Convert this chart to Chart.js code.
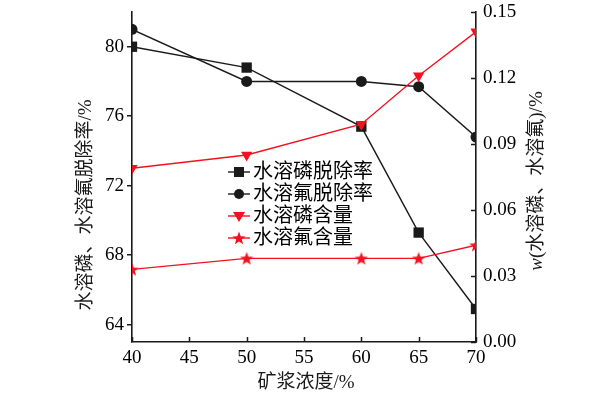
<!DOCTYPE html>
<html>
<head>
<meta charset="utf-8">
<script src="https://cdn.jsdelivr.net/npm/chart.js@4.4.1/dist/chart.umd.min.js"></script>
<style>
  html, body { margin: 0; padding: 0; background: #fff; }
  #wrap { width: 599px; height: 398px; position: relative; }
</style>
</head>
<body>
<div id="wrap"><canvas id="mainChart" width="599" height="398"></canvas></div>
<script>
const X_VALUES = [40, 50, 60, 65, 70];
const P_REMOVAL = [80.0, 78.8, 75.4, 69.3, 64.9];
const F_REMOVAL = [81.0, 78.0, 78.0, 77.7, 74.8];
const P_CONTENT = [0.079, 0.085, 0.099, 0.121, 0.141];
const F_CONTENT = [0.033, 0.038, 0.038, 0.038, 0.044];

const X_TICKS = [40, 45, 50, 55, 60, 65, 70];
const LEFT_TICKS = [64, 68, 72, 76, 80];
const RIGHT_TICKS = [0, 0.03, 0.06, 0.09, 0.12, 0.15];

const SERIES_NAMES = ["水溶磷脱除率", "水溶氟脱除率", "水溶磷含量", "水溶氟含量"];
const X_TITLE = "矿浆浓度/%";
const LEFT_TITLE = "水溶磷、水溶氟脱除率/%";
const RIGHT_TITLE_VAR = "w";
const RIGHT_TITLE_REST = "(水溶磷、水溶氟)/%";

const FONT = '"Liberation Serif", "Noto Sans CJK SC", serif';
const INK = "#1a1a1a";
const RED = "#f5101f";

function makeStar(size, color) {
  const c = document.createElement("canvas");
  c.width = size;
  c.height = size;
  const g = c.getContext("2d");
  const cx = size / 2, cy = size / 2 + 0.6;
  const ro = size / 2, ri = ro * 0.42;
  g.beginPath();
  for (let i = 0; i < 10; i++) {
    const r = i % 2 === 0 ? ro : ri;
    const a = -Math.PI / 2 + (i * Math.PI) / 5;
    const px = cx + r * Math.cos(a), py = cy + r * Math.sin(a);
    if (i === 0) g.moveTo(px, py); else g.lineTo(px, py);
  }
  g.closePath();
  g.fillStyle = color;
  g.fill();
  return c;
}

const starImg = makeStar(14, RED);

const toPoints = (ys) => X_VALUES.map((x, i) => ({ x, y: ys[i] }));

// pin the plot box: top edge at 12px, no extra label padding
function pinVertical(width) {
  return (s) => {
    s.width = width;
    s.paddingTop = 12;
    s.paddingBottom = 0;
  };
}

const extras = {
  id: "extras",
  afterDraw(chart) {
    const { ctx, chartArea: a } = chart;
    const xs = chart.scales.x;
    const yr = chart.scales.y1;
    ctx.save();
    ctx.strokeStyle = INK;
    ctx.lineWidth = 1.5;
    // inner ticks on bottom and right axes
    X_TICKS.forEach((v) => {
      const px = Math.round(xs.getPixelForValue(v)) + 0.5;
      ctx.beginPath();
      ctx.moveTo(px, a.bottom);
      ctx.lineTo(px, a.bottom - 5);
      ctx.stroke();
    });
    RIGHT_TICKS.forEach((v) => {
      const py = Math.round(yr.getPixelForValue(v)) + 0.5;
      ctx.beginPath();
      ctx.moveTo(a.right, py);
      ctx.lineTo(a.right - 5, py);
      ctx.stroke();
    });

    // axis titles
    ctx.fillStyle = INK;
    ctx.textBaseline = "middle";
    ctx.textAlign = "center";
    ctx.font = "19px " + FONT;
    ctx.fillText(X_TITLE, (a.left + a.right) / 2 + 2, 383);

    ctx.save();
    ctx.translate(86, 205);
    ctx.rotate(-Math.PI / 2);
    ctx.fillText(LEFT_TITLE, 0, 0);
    ctx.restore();

    ctx.save();
    ctx.translate(537, 181);
    ctx.rotate(-Math.PI / 2);
    ctx.textAlign = "left";
    ctx.font = "italic 19px " + FONT;
    const wv = ctx.measureText(RIGHT_TITLE_VAR).width;
    ctx.font = "19px " + FONT;
    const wr = ctx.measureText(RIGHT_TITLE_REST).width;
    const start = -(wv + wr) / 2;
    ctx.font = "italic 19px " + FONT;
    ctx.fillText(RIGHT_TITLE_VAR, start, 0);
    ctx.font = "19px " + FONT;
    ctx.fillText(RIGHT_TITLE_REST, start + wv, 0);
    ctx.restore();

    // legend
    const rows = [172, 194, 216, 238];
    chart.data.datasets.forEach((ds, i) => {
      const y = rows[i];
      ctx.strokeStyle = ds.borderColor;
      ctx.lineWidth = 1.4;
      ctx.beginPath();
      ctx.moveTo(228, y);
      ctx.lineTo(250, y);
      ctx.stroke();
      ctx.fillStyle = ds.pointBackgroundColor;
      const mx = 239;
      if (ds.pointStyle === "rect") {
        ctx.fillRect(mx - 5, y - 5, 10, 10);
      } else if (ds.pointStyle === "circle") {
        ctx.beginPath();
        ctx.arc(mx, y, 5, 0, Math.PI * 2);
        ctx.fill();
      } else if (ds.pointStyle === "triangle") {
        ctx.beginPath();
        ctx.moveTo(mx - 6, y - 4);
        ctx.lineTo(mx + 6, y - 4);
        ctx.lineTo(mx, y + 6);
        ctx.closePath();
        ctx.fill();
      } else {
        ctx.drawImage(starImg, mx - 7, y - 7);
      }
      ctx.fillStyle = "#000";
      ctx.textAlign = "left";
      ctx.font = "20px " + FONT;
      ctx.fillText(ds.label, 253, y + 1);
    });
    ctx.restore();
  },
};

function init() {
  Chart.defaults.font.family = FONT;
  Chart.defaults.color = "#000";

  const ctx = document.getElementById("mainChart").getContext("2d");
  new Chart(ctx, {
    type: "line",
    data: {
      datasets: [
        {
          label: SERIES_NAMES[0],
          data: toPoints(P_REMOVAL),
          yAxisID: "y",
          borderColor: INK,
          borderWidth: 1.4,
          pointStyle: "rect",
          pointRadius: 7.3,
          pointBackgroundColor: INK,
          pointBorderColor: INK,
          pointBorderWidth: 0,
          order: 2,
        },
        {
          label: SERIES_NAMES[1],
          data: toPoints(F_REMOVAL),
          yAxisID: "y",
          borderColor: INK,
          borderWidth: 1.4,
          pointStyle: "circle",
          pointRadius: 5.5,
          pointBackgroundColor: INK,
          pointBorderColor: INK,
          pointBorderWidth: 0,
          order: 2,
        },
        {
          label: SERIES_NAMES[2],
          data: toPoints(P_CONTENT),
          yAxisID: "y1",
          borderColor: RED,
          borderWidth: 1.4,
          pointStyle: "triangle",
          rotation: 180,
          pointRadius: 6.5,
          pointBackgroundColor: RED,
          pointBorderColor: RED,
          pointBorderWidth: 0,
          order: 1,
        },
        {
          label: SERIES_NAMES[3],
          data: toPoints(F_CONTENT),
          yAxisID: "y1",
          borderColor: RED,
          borderWidth: 1.4,
          pointStyle: starImg,
          pointRadius: 7,
          pointBackgroundColor: RED,
          pointBorderColor: RED,
          order: 1,
        },
      ],
    },
    options: {
      responsive: false,
      animation: false,
      devicePixelRatio: 1,
      layout: { padding: { top: 0, left: 0, right: 0, bottom: 0 } },
      plugins: { legend: { display: false }, tooltip: { enabled: false } },
      scales: {
        x: {
          type: "linear",
          min: 40,
          max: 70,
          afterBuildTicks: (s) => { s.ticks = X_TICKS.map((v) => ({ value: v })); },
          afterFit: (s) => { s.height = 56; s.paddingLeft = 0; s.paddingRight = 0; },
          grid: { display: false, drawTicks: false },
          border: { display: true, color: INK, width: 1.6 },
          ticks: { padding: 5, color: "#000", font: { size: 19 }, maxRotation: 0 },
        },
        y: {
          position: "left",
          min: 63,
          max: 82,
          afterBuildTicks: (s) => { s.ticks = LEFT_TICKS.map((v) => ({ value: v })); },
          afterFit: pinVertical(132),
          grid: { drawOnChartArea: false, drawTicks: true, tickLength: 5, color: INK, lineWidth: 1.5 },
          border: { display: true, color: INK, width: 1.6 },
          ticks: { padding: 3, color: "#000", font: { size: 19 } },
        },
        y1: {
          position: "right",
          min: 0,
          max: 0.15,
          afterBuildTicks: (s) => { s.ticks = RIGHT_TICKS.map((v) => ({ value: v })); },
          afterFit: pinVertical(123),
          grid: { display: false, drawTicks: false },
          border: { display: true, color: INK, width: 1.6 },
          ticks: {
            padding: 7,
            color: "#000",
            font: { size: 19 },
            callback: (v) => Number(v).toFixed(2),
          },
        },
      },
    },
    plugins: [extras],
  });
}

document.addEventListener("DOMContentLoaded", init);
</script>
</body>
</html>
